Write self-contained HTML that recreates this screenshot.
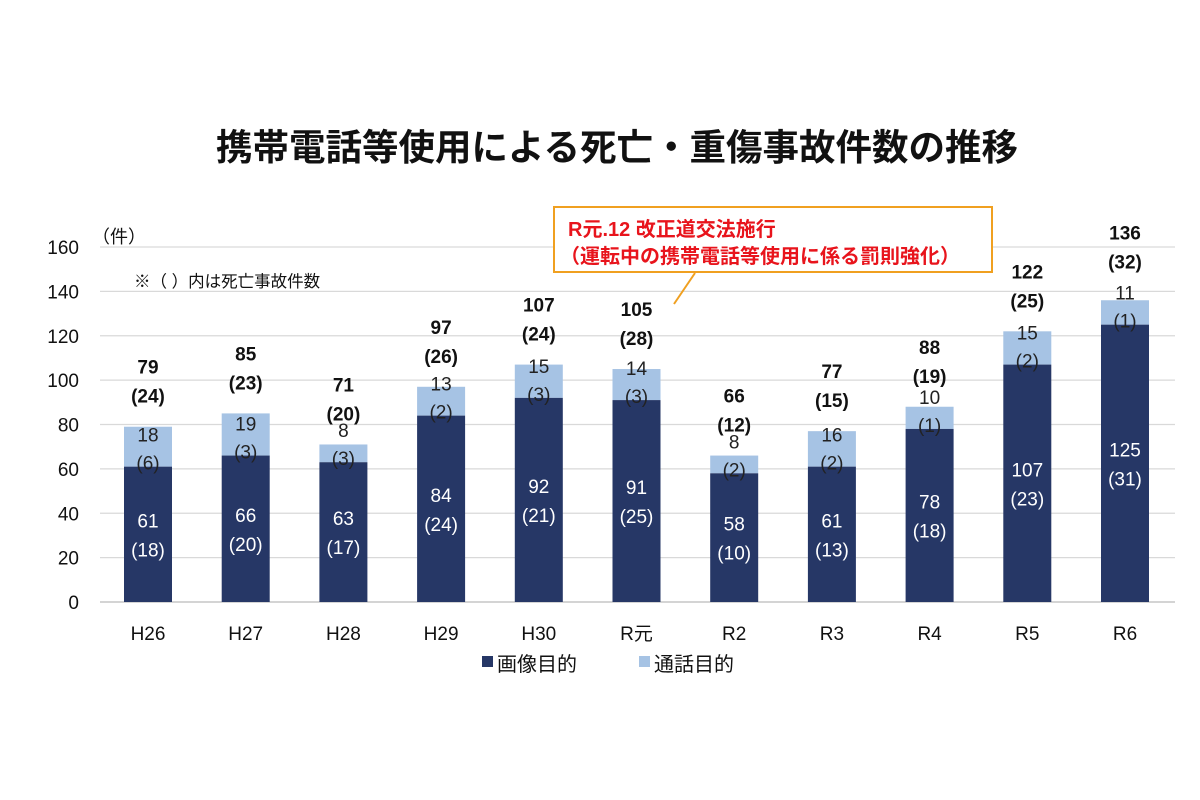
<!DOCTYPE html>
<html><head><meta charset="utf-8"><style>
html,body{margin:0;padding:0;background:#fff;}
svg{display:block;font-family:"Liberation Sans","Noto Sans CJK JP",sans-serif;}
</style></head><body>
<svg id="c" width="1200" height="800" viewBox="0 0 1200 800" xmlns="http://www.w3.org/2000/svg">
<rect width="1200" height="800" fill="#fff"/>
<text x="617" y="160" font-size="36.5" font-weight="bold" text-anchor="middle" fill="#111">携帯電話等使用による死亡・重傷事故件数の推移</text>
<g id="grid"></g>
<text x="92" y="243" font-size="18" fill="#111">（件）</text>
<text x="134" y="287" font-size="16.5" fill="#111">※（  ）内は死亡事故件数</text>
<g id="bars"></g>
<line x1="695" y1="273" x2="674" y2="304" stroke="#f0a020" stroke-width="2"/>
<rect x="554" y="207" width="438" height="65" fill="#fff" stroke="#f0a020" stroke-width="2"/>
<text x="568" y="236" font-size="20" font-weight="bold" fill="#e8141c">R元.12  改正道交法施行</text>
<text x="560" y="263" font-size="20" font-weight="bold" fill="#e8141c">（運転中の携帯電話等使用に係る罰則強化）</text>
<rect x="482" y="656" width="11" height="11" fill="#263766"/>
<text x="497" y="671" font-size="20" fill="#111">画像目的</text>
<rect x="639" y="656" width="11" height="11" fill="#a6c3e4"/>
<text x="654" y="671" font-size="20" fill="#111">通話目的</text>
</svg>
<script>
var ns="http://www.w3.org/2000/svg";
function el(p,t,a,txt){var e=document.createElementNS(ns,t);for(var k in a)e.setAttribute(k,a[k]);if(txt!=null)e.textContent=txt;p.appendChild(e);return e;}
var y0=602,k=355/160;
function Y(v){return y0-v*k;}
var g=document.getElementById("grid");
for(var v=0;v<=160;v+=20){var y=Y(v);
 el(g,"line",{x1:100,x2:1175,y1:y,y2:y,stroke:v==0?"#bbb":"#d9d9d9","stroke-width":1.3});
 el(g,"text",{x:79,y:y+7,"font-size":19,"text-anchor":"end",fill:"#111"},String(v));}
var d=[["H26",61,18,18,6,79,24],["H27",66,20,19,3,85,23],["H28",63,17,8,3,71,20],["H29",84,24,13,2,97,26],["H30",92,21,15,3,107,24],["R元",91,25,14,3,105,28],["R2",58,10,8,2,66,12],["R3",61,13,16,2,77,15],["R4",78,18,10,1,88,19],["R5",107,23,15,2,122,25],["R6",125,31,11,1,136,32]];
var b=document.getElementById("bars");
d.forEach(function(r,i){
 var cx=148+i*97.7,w=48;
 var dt=Y(r[1]),tt=Y(r[1]+r[3]);
 el(b,"rect",{x:cx-w/2,y:tt,width:w,height:dt-tt,fill:"#a6c3e4"});
 el(b,"rect",{x:cx-w/2,y:dt,width:w,height:y0-dt,fill:"#263766"});
 var mid=(dt+y0)/2;
 el(b,"text",{x:cx,y:mid-7,"font-size":19,"text-anchor":"middle",fill:"#fff"},String(r[1]));
 el(b,"text",{x:cx,y:mid+22,"font-size":19,"text-anchor":"middle",fill:"#fff"},"("+r[2]+")");
 el(b,"text",{x:cx,y:dt-25,"font-size":19,"text-anchor":"middle",fill:"#222"},String(r[3]));
 el(b,"text",{x:cx,y:dt+3,"font-size":19,"text-anchor":"middle",fill:"#222"},"("+r[4]+")");
 var o=(i==10)?8:0;
 el(b,"text",{x:cx,y:tt-53-o,"font-size":19,"font-weight":"bold","text-anchor":"middle",fill:"#111"},String(r[5]));
 el(b,"text",{x:cx,y:tt-24-o,"font-size":19,"font-weight":"bold","text-anchor":"middle",fill:"#111"},"("+r[6]+")");
 el(b,"text",{x:cx,y:640,"font-size":19,"text-anchor":"middle",fill:"#111"},r[0]);
});
</script>
</body></html>
